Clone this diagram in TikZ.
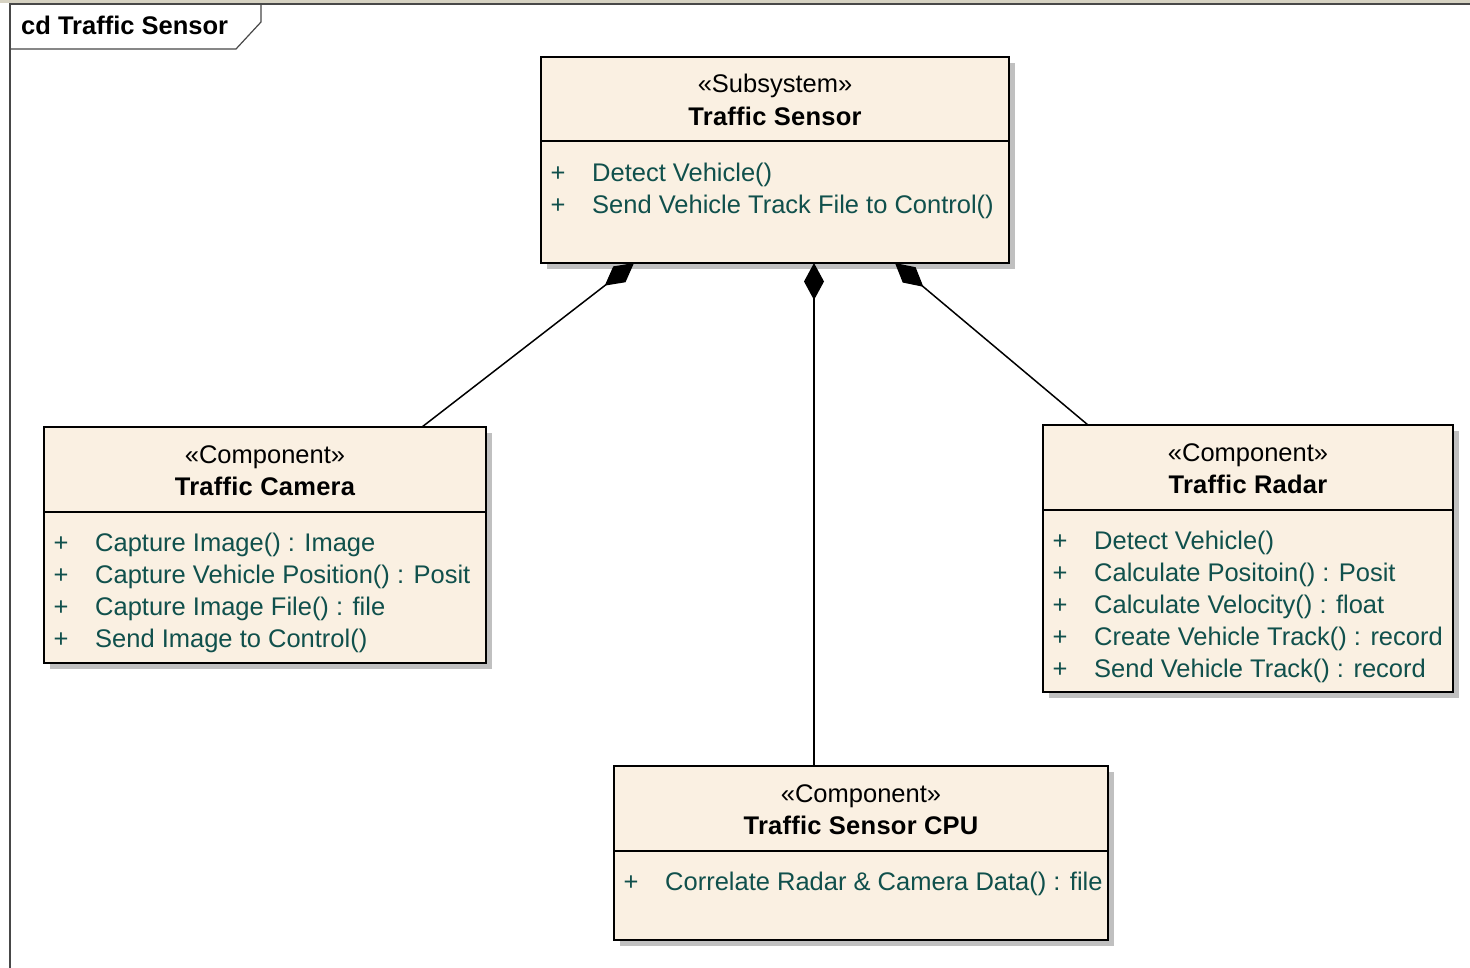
\documentclass[tikz,border=0pt]{standalone}
\usepackage{fontspec}
\setmainfont{Liberation Sans}
\usetikzlibrary{arrows.meta,calc,shadows}

\definecolor{boxfill}{RGB}{250,240,226}
\definecolor{optext}{RGB}{16,80,76}
\definecolor{shadowgray}{RGB}{192,192,192}
\definecolor{framegray}{RGB}{72,72,72}
\definecolor{chrome}{RGB}{214,210,194}

\newcommand\umlfont{\fontsize{25.5}{30}\selectfont}

\tikzset{
  classbox/.style={rectangle, draw=black, line width=2pt, fill=boxfill,
    inner sep=0pt, outer sep=0pt,
    drop shadow={shadow xshift=6pt, shadow yshift=-6pt, fill=shadowgray, opacity=1}},
  divider/.style={line width=2pt},
  stereo/.style={anchor=base, inner sep=0pt, font=\umlfont},
  cname/.style={anchor=base, inner sep=0pt, font=\umlfont\bfseries\addfontfeatures{LetterSpace=1}},
  opsign/.style={anchor=base, inner sep=0pt, text=optext, font=\umlfont},
  optxt/.style={anchor=base west, inner sep=0pt, text=optext, font=\umlfont},
  composition/.style={line width=1.5pt, -{Diamond[length=37pt,width=20pt]}},
}

% name, left, top, width, height, stereotype, title, operations
\newcommand\umlclassbox[8]{%
  \node[classbox, minimum width=#4pt, minimum height=#5pt, anchor=north west] (#1) at (#2,#3) {};
  \draw[divider] ($(#1.north west)+(0,84.5)$) -- ($(#1.north east)+(0,84.5)$);
  \node[stereo] (#1-st) at ($(#1.north)+(0,36)$) {«#6»};
  \node[cname] (#1-nm) at ($(#1.north)+(0,68.5)$) {#7};
  \foreach \op [count=\i] in {#8} {
    \node[opsign] (#1-p\i) at ($(#1.north west)+(17,{93+31.8*\i})$) {+};
    \node[optxt] (#1-o\i) at ($(#1.north west)+(51,{93+31.8*\i})$) {\op};
  }%
}

\begin{document}
\begin{tikzpicture}[x=1pt,y=-1pt]
  \useasboundingbox (0,0) rectangle (1470,968);
  \fill[white] (0,0) rectangle (1470,968);

  % diagram frame with its name tab
  \fill[chrome] (0,0) rectangle (1470,3);
  \draw[framegray, line width=1.5pt] (10,972) -- (10,4) -- (1472,4);
  \draw[framegray, line width=1.2pt] (261,4) -- (261,22) -- (236,49) -- (10,49);
  \node[anchor=base west, inner sep=0pt, font=\umlfont\bfseries] (frametitle) at (21,35) {cd Traffic Sensor};

  % classes
  \umlclassbox{sensor}{541}{57}{468}{206}{Subsystem}{Traffic Sensor}
    {Detect Vehicle(), Send Vehicle Track File to Control()}
  \umlclassbox{cam}{44}{427}{442}{236}{Component}{Traffic Camera}
    {Capture Image() : Image, Capture Vehicle Position() : Posit,
     Capture Image File() : file, Send Image to Control()}
  \umlclassbox{radar}{1043}{425}{410}{267}{Component}{Traffic Radar}
    {Detect Vehicle(), Calculate Positoin() : Posit, Calculate Velocity() : float,
     Create Vehicle Track() : record, Send Vehicle Track() : record}
  \umlclassbox{cpu}{614}{766}{494}{174}{Component}{Traffic Sensor CPU}
    {Correlate Radar \& Camera Data() : file}

  % composition links into the subsystem
  \draw[composition] ($(cam.north west)+(378,0)$) -- ($(sensor.south west)+(93,0)$);
  \draw[composition] ($(cpu.north west)+(200,0)$) -- ($(sensor.south west)+(273,0)$);
  \draw[composition] ($(radar.north west)+(45,0)$) -- ($(sensor.south west)+(354,0)$);
\end{tikzpicture}
\end{document}
